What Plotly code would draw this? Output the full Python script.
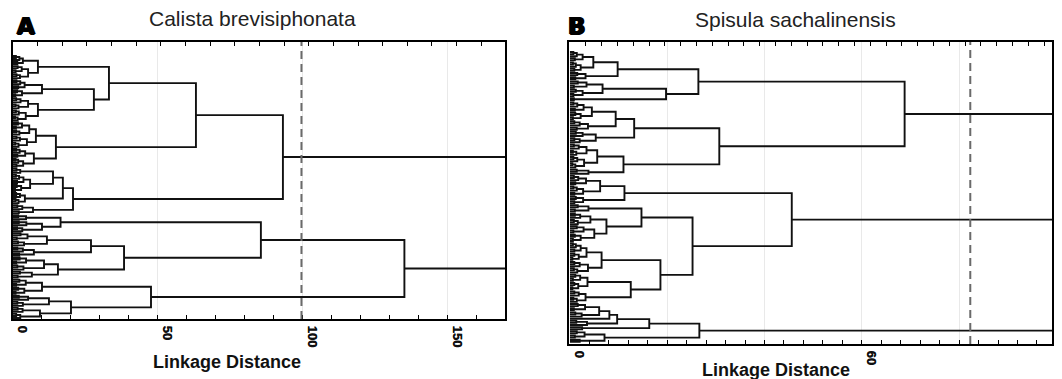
import plotly.graph_objects as go

# ---------------- data ----------------
# Leaf blocks: merge heights (linkage distance) in preorder, balanced split.
# Panel A  (Calista brevisiphonata)
A01 = [3.4, 2.2, 1.0, 1.5]
A02 = [5.2, 3.0, 1.6, 0.9, 2.4, 1.2]
A03 = [10.0, 4.0, 2.5, 1.2, 1.8, 3.1, 1.4, 0.8]
A04 = [8.6, 5.2, 2.6, 1.1, 1.9, 0.9, 4.4, 2.0, 1.0, 1.6, 0.7]
A05 = [7.9, 5.6, 3.1, 1.7, 1.0, 2.2, 1.1, 4.8, 2.4, 1.2, 1.9, 0.8]
A06 = [7.2, 4.2, 2.3, 1.1, 1.5, 3.5, 1.8, 0.9, 1.2]
A07 = [2.5, 1.2]
A08 = [5.9, 3.6, 2.1, 1.0, 1.4, 2.8, 1.3, 0.7]
A09 = [4.1, 2.4, 1.1, 1.9, 0.9]
A10 = [6.9, 3.2, 1.5, 2.0]
A11 = [4.5, 1.8]
A12 = [10.0, 4.6, 2.0, 3.2, 1.4]
A13 = [11.7, 5.0, 2.6, 1.3, 3.8, 1.7]
A14 = [7.2, 3.4, 1.5, 2.1]
A15 = [10.7, 4.5, 2.3, 1.1, 3.6, 1.5]
A16 = [6.5, 2.4, 1.6]
A17 = [10.0, 4.4, 2.2, 1.1, 3.9, 1.8, 0.9]
A18 = [12.4, 5.2, 2.0, 3.4, 1.5]
A19 = [9.3, 3.3, 1.6, 2.5, 1.1]
# upper merge heights, panel A
A_ROOT, A_T, A_T1, A_T1a, A_T1a1, A_T1a2, A_T1b = 190.0, 93.1, 63.1, 33.1, 8.6, 27.9, 14.8
A_T2, A_T2a, A_T2a1 = 20.7, 17.2, 13.8
A_B, A_B1, A_B1a, A_B1b, A_B1b1, A_B1b2 = 135.0, 85.5, 16.4, 38.3, 26.9, 15.5
A_B2, A_B2b = 47.6, 20.0
A_CUT = 99.5

# Panel B  (Spisula sachalinensis)
B01 = [4.8, 2.6, 1.4, 0.7, 1.0, 2.2, 1.2, 0.6, 0.9]
B02 = [3.2, 1.5, 1.1]
B03 = [6.7, 3.4, 1.6, 0.8, 2.6, 1.2, 0.7]
B04 = [0.8]
B05 = [4.5, 2.8, 1.5, 0.7, 1.0, 2.2, 1.1, 0.6]
B06 = [3.7, 2.0, 0.9, 1.4]
B07 = [5.3, 2.6, 1.2, 2.0, 0.9]
B08 = [5.6, 3.4, 1.8, 0.8, 1.3, 0.6, 2.9, 1.5, 0.7, 1.1, 0.5]
B09 = [3.8, 1.4]
B10 = [6.2, 3.3, 1.7, 0.8, 1.1, 2.7, 1.4, 0.7, 0.9]
B11 = [2.7, 1.2, 0.9]
B12 = [3.8, 1.6, 1.0]
B13 = [4.2, 2.1, 1.0, 1.6, 0.8]
B14 = [5.0, 2.8, 1.4, 0.7, 2.2, 1.0, 0.6]
B15 = [3.4, 2.2, 1.2, 0.6, 0.9, 1.8, 0.9, 0.5]
B16 = [3.7, 2.0, 0.9, 1.5, 0.8]
B17 = [3.6, 2.1, 1.1, 0.6, 1.7, 0.9, 0.5]
B18 = [3.2, 1.8, 0.9, 1.4, 0.7]
B19 = [6.0, 3.1, 1.6, 0.8, 2.4, 1.1]
B20 = []
B21 = [3.5, 1.3]
B22 = [2.5]
B23 = [3.0, 1.4, 1.0]
B24 = [2.0]
B_ROOT, B_ROOT2 = 120.0, 105.0
B_C1, B_C1a, B_C1a1, B_C1a2, B_C1b, B_C1b1, B_C1b11, B_C1b2 = 68.8, 26.4, 9.8, 19.75, 30.7, 13.2, 9.4, 11.0
B_C2, B_C2a, B_C2b, B_C2b1, B_C2b12, B_C2b2, B_C2b21, B_C2b22 = 45.6, 11.2, 25.2, 14.7, 7.5, 18.6, 6.5, 12.5
B_C3, B_C3a, B_C3a1, B_C3a11, B_C3b = 26.6, 16.3, 9.7, 8.1, 7.1
B_CUT = 82.3

TITLE_A = "Calista brevisiphonata"
TITLE_B = "Spisula sachalinensis"
XLABEL = "Linkage Distance"


# ---------------- tree helpers ----------------
def blk(heights):
    it = iter(heights)

    def rec(m):
        if m == 1:
            return 0
        h = next(it)
        left = rec((m + 1) // 2)
        right = rec(m // 2)
        return [h, left, right]

    return rec(len(heights) + 1)


def tree_xy(root):
    xs, ys = [], []
    counter = [0]

    def rec(node):
        if node == 0:
            y = counter[0]
            counter[0] += 1
            return 0.0, float(y)
        h, l, r = node
        hl, yl = rec(l)
        hr, yr = rec(r)
        xs.extend([hl, h, h, hr, None])
        ys.extend([yl, yl, yr, yr, None])
        return h, (yl + yr) / 2.0

    rec(root)
    return xs, ys, counter[0]


tree_A = [A_ROOT,
          [A_T,
           [A_T1,
            [A_T1a, [A_T1a1, blk(A01), blk(A02)], [A_T1a2, blk(A03), blk(A04)]],
            [A_T1b, blk(A05), blk(A06)]],
           [A_T2,
            [A_T2a, [A_T2a1, blk(A07), blk(A08)], blk(A09)],
            blk(A10)]],
          [A_B,
           [A_B1,
            [A_B1a, blk(A11), blk(A12)],
            [A_B1b, [A_B1b1, blk(A13), blk(A14)], [A_B1b2, blk(A15), blk(A16)]]],
           [A_B2, blk(A17), [A_B2b, blk(A18), blk(A19)]]]]

tree_B = [B_ROOT,
          [B_ROOT2,
           [B_C1,
            [B_C1a, [B_C1a1, blk(B01), blk(B02)], [B_C1a2, blk(B03), blk(B04)]],
            [B_C1b, [B_C1b1, [B_C1b11, blk(B05), blk(B06)], blk(B07)], [B_C1b2, blk(B08), blk(B09)]]],
           [B_C2,
            [B_C2a, blk(B10), blk(B11)],
            [B_C2b,
             [B_C2b1, blk(B12), [B_C2b12, blk(B13), blk(B14)]],
             [B_C2b2, [B_C2b21, blk(B15), blk(B16)], [B_C2b22, blk(B17), blk(B18)]]]]],
          [B_C3,
           [B_C3a, [B_C3a1, [B_C3a11, blk(B19), blk(B20)], blk(B21)], blk(B22)],
           [B_C3b, blk(B23), blk(B24)]]]

xa, ya, na = tree_xy(tree_A)
xb, yb, nb = tree_xy(tree_B)

# ---------------- figure ----------------
W, H = 1062, 379
LINE = dict(color="#111111", width=1.9)

fig = go.Figure()
fig.add_trace(go.Scatter(x=xa, y=ya, mode="lines", line=LINE, xaxis="x", yaxis="y",
                         hoverinfo="skip", showlegend=False))
fig.add_trace(go.Scatter(x=xb, y=yb, mode="lines", line=LINE, xaxis="x2", yaxis="y2",
                         hoverinfo="skip", showlegend=False))
# carriers for the top tick axes
fig.add_trace(go.Scatter(x=[None], y=[None], xaxis="x3", yaxis="y", showlegend=False))
fig.add_trace(go.Scatter(x=[None], y=[None], xaxis="x4", yaxis="y2", showlegend=False))


def px_x(p):
    return p / W


def px_y(p):
    return 1 - p / H


A_left, A_right, A_top, A_bot = 13, 505, 42, 319
B_left, B_right, B_top, B_bot = 569, 1052, 42, 344
A_range = [0, 169.7]
B_range = [-0.2, 99.1]
A_yrange = [(A_bot - 56) / 2.015, (A_top - 56) / 2.015]
B_yrange = [(B_bot - 52) / 2.1, (B_top - 52) / 2.1]

tickfont = dict(family="Liberation Sans, Arial, sans-serif", size=13, color="#111", weight="bold",
                shadow="0.4px 0 0 #111")
common_x = dict(showline=True, linecolor="black", linewidth=2, mirror=True, zeroline=False,
                ticks="inside", ticklen=4, tickcolor="black", tickwidth=1,
                showgrid=True, gridcolor="#e9e9e9", gridwidth=1,
                tickangle=90, tickfont=tickfont, ticklabelshift=9, ticklabelstandoff=2)
common_y = dict(showline=True, linecolor="black", linewidth=2, mirror=True, zeroline=False,
                ticks="", showticklabels=False, showgrid=False)

fig.update_layout(
    width=W, height=H, margin=dict(l=0, r=0, t=0, b=0),
    paper_bgcolor="white", plot_bgcolor="white",
    xaxis=dict(domain=[px_x(A_left), px_x(A_right)], range=A_range, anchor="y",
               tickmode="linear", tick0=0, dtick=50,
               minor=dict(tickmode="linear", tick0=0, dtick=10, ticks="inside", ticklen=4,
                          tickcolor="black", showgrid=False),
               **common_x),
    yaxis=dict(domain=[px_y(A_bot), px_y(A_top)], range=A_yrange, anchor="x", **common_y),
    xaxis2=dict(domain=[px_x(B_left), px_x(B_right)], range=B_range, anchor="y2",
                tickmode="array", tickvals=[0, 20, 40, 60, 80], ticktext=["0", "", "", "60", ""],
                minor=dict(tickmode="linear", tick0=0, dtick=4, ticks="inside", ticklen=4,
                           tickcolor="black", showgrid=False),
                **common_x),
    yaxis2=dict(domain=[px_y(B_bot), px_y(B_top)], range=B_yrange, anchor="x2", **common_y),
    xaxis3=dict(overlaying="x", side="top", anchor="y", range=A_range, tickmode="linear",
                tick0=0, dtick=8.5, ticks="inside", ticklen=4, tickcolor="black",
                showticklabels=False, showgrid=False, zeroline=False, showline=False),
    xaxis4=dict(overlaying="x2", side="top", anchor="y2", range=B_range, tickmode="linear",
                tick0=0, dtick=3.25, ticks="inside", ticklen=4, tickcolor="black",
                showticklabels=False, showgrid=False, zeroline=False, showline=False),
)

# cut lines
fig.add_shape(type="line", xref="x", yref="y domain", x0=A_CUT, x1=A_CUT, y0=0, y1=1,
              line=dict(color="#6a6a6a", width=2, dash="8px,5px"))
fig.add_shape(type="line", xref="x2", yref="y2 domain", x0=B_CUT, x1=B_CUT, y0=0, y1=1,
              line=dict(color="#6a6a6a", width=2, dash="8px,5px"))

title_font = dict(family="Liberation Sans, Arial, sans-serif", size=21, color="#222")
label_font = dict(family="Liberation Sans, Arial, sans-serif", size=18, color="#111", weight="bold")
letter_font = dict(family="DejaVu Sans, sans-serif", size=23, color="black", weight="bold",
                   shadow="1px 0 0 black, -1px 0 0 black, 0 1px 0 black")

annots = [
    (TITLE_A, 252, 18, title_font),
    (TITLE_B, 795, 19, title_font),
    ("A", 26, 26, letter_font),
    ("B", 577, 26, letter_font),
    (XLABEL, 227, 362, label_font),
    (XLABEL, 776, 370, label_font),
]
for text, x, y, f in annots:
    fig.add_annotation(text=text, x=px_x(x), y=px_y(y), xref="paper", yref="paper",
                       xanchor="center", yanchor="middle", showarrow=False, font=f)

fig.write_html("out.html")
